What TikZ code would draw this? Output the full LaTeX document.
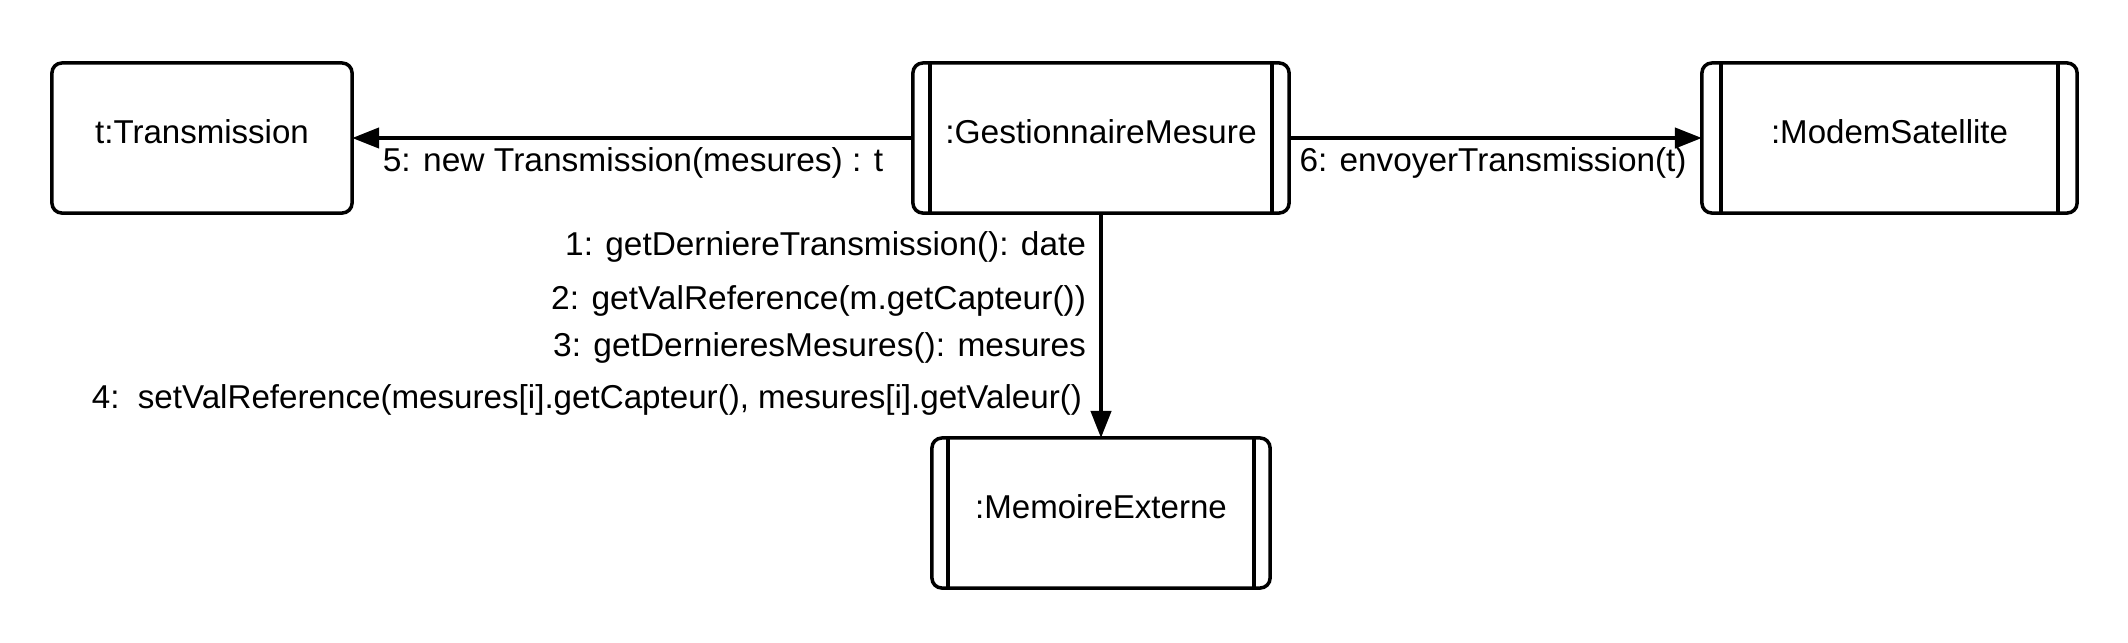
\documentclass[tikz,border=0pt]{standalone}
\usepackage{fontspec}
\setmainfont{Liberation Sans}
\usepackage{graphicx}
\usetikzlibrary{arrows.meta}
\newcommand{\hsc}[2]{\scalebox{#1}[1]{#2}}
\begin{document}
\begin{tikzpicture}[x=0.01cm,y=-0.01cm,
  font=\fontsize{9.4}{11}\selectfont,
  obj/.style={draw, line width=1pt, rounded corners=0.1cm, minimum height=1.5cm,
    inner sep=0pt, outer sep=0pt, text height=0.24cm, text depth=0.14cm},
  bar/.style={line width=1.3pt},
  msg/.style={line width=1.2pt, -{Triangle[length=0.27cm,width=0.2cm]}},
  lbl/.style={inner sep=0pt, outer sep=0pt}]
\useasboundingbox (0,0) rectangle (2128,642);
\node[obj, minimum width=3.0cm]  (trans) at (202,138)    {t:Transmission};
\node[obj, minimum width=3.76cm] (gest)  at (1101,138)   {\hsc{1.015}{:GestionnaireMesure}};
\node[obj, minimum width=3.75cm] (modem) at (1889.5,138) {:ModemSatellite};
\node[obj, minimum width=3.38cm] (mem)   at (1101,513)   {:MemoireExterne};
\foreach \n/\d in {gest/17,modem/19,mem/16}{
  \draw[bar] ([xshift=\d*0.01cm]\n.north west) -- ([xshift=\d*0.01cm]\n.south west);
  \draw[bar] ([xshift=-\d*0.01cm]\n.north east) -- ([xshift=-\d*0.01cm]\n.south east);
}
\draw[msg] (gest.west) -- node[lbl, pos=0.499, anchor=base, yshift=-0.335cm]
  {\hsc{1.014}{5: new Transmission(mesures) : t}} (trans.east);
\draw[msg] (gest.east) -- node[lbl, pos=0.494, anchor=base, yshift=-0.335cm]
  {\hsc{1.008}{6: envoyerTransmission(t)}} (modem.west);
\draw[msg] (gest.south) --
  node[lbl, pos=0.187, anchor=base east, xshift=-0.15cm] {\hsc{1.01}{1: getDerniereTransmission(): date}}
  node[lbl, pos=0.427, anchor=base east, xshift=-0.15cm] {\hsc{1.013}{2: getValReference(m.getCapteur())}}
  node[lbl, pos=0.640, anchor=base east, xshift=-0.15cm] {\hsc{1.013}{3: getDernieresMesures(): mesures}}
  node[lbl, pos=0.867, anchor=base east, xshift=-0.19cm] {\hsc{1.003}{4:\ \ setValReference(mesures[i].getCapteur(), mesures[i].getValeur()}}
  (mem.north);
\end{tikzpicture}
\end{document}
